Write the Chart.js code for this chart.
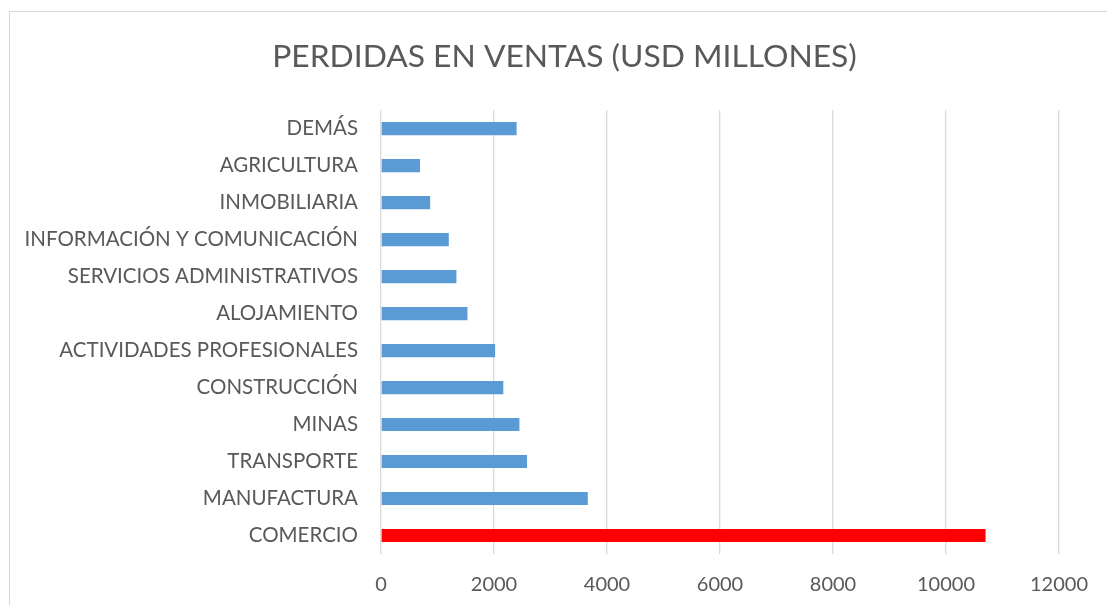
<!DOCTYPE html>
<html>
<head>
<meta charset="utf-8">
<script src="https://cdn.jsdelivr.net/npm/chart.js@4.4.0/dist/chart.umd.min.js"></script>
<style>
  html, body { margin: 0; padding: 0; background: #fff; overflow: hidden; }
  #frame {
    position: absolute; left: 9px; top: 11px;
    width: 1109px; height: 600px;
    border: 1px solid #d9d9d9;
  }
  #chart { display: block; }
</style>
</head>
<body>
<div id="frame"><canvas id="chart" width="1109" height="600"></canvas></div>
<script>
  const categories = [
    'DEMÁS', 'AGRICULTURA', 'INMOBILIARIA', 'INFORMACIÓN Y COMUNICACIÓN',
    'SERVICIOS ADMINISTRATIVOS', 'ALOJAMIENTO', 'ACTIVIDADES PROFESIONALES',
    'CONSTRUCCIÓN', 'MINAS', 'TRANSPORTE', 'MANUFACTURA', 'COMERCIO'
  ];
  const losses = [2400, 690, 870, 1200, 1335, 1530, 2020, 2165, 2450, 2585, 3660, 10700];
  const barColors = categories.map(c => c === 'COMERCIO' ? '#ff0000' : '#5b9bd5');
  const xTicks = [0, 2000, 4000, 6000, 8000, 10000, 12000];

  const textColor = '#595959';
  const fontFamily = 'Lato, "Open Sans", sans-serif';

  new Chart(document.getElementById('chart').getContext('2d'), {
    type: 'bar',
    data: {
      labels: categories,
      datasets: [{
        data: losses,
        backgroundColor: barColors,
        borderWidth: 0,
        categoryPercentage: 1,
        barPercentage: 0.355
      }]
    },
    options: {
      indexAxis: 'y',
      responsive: false,
      animation: false,
      layout: { padding: { left: 0, right: 0, top: 0, bottom: 8 } },
      plugins: {
        legend: { display: false },
        tooltip: { enabled: false },
        title: {
          display: true,
          text: 'PERDIDAS EN VENTAS (USD MILLONES)',
          color: textColor,
          font: { family: fontFamily, size: 31.8, weight: 'normal' },
          padding: { top: 26, bottom: 34 }
        }
      },
      scales: {
        x: {
          min: xTicks[0],
          max: xTicks[xTicks.length - 1],
          afterBuildTicks: s => { s.ticks = xTicks.map(v => ({ value: v })); },
          afterFit: s => { s.height = 50; },
          grid: { color: '#d9d9d9', lineWidth: 1.3, drawTicks: false },
          border: { display: false },
          ticks: {
            color: textColor,
            padding: 19,
            font: { family: fontFamily, size: 20 },
            callback: v => String(v)
          }
        },
        y: {
          afterFit: s => { s.width = 371; },
          grid: { display: false, drawTicks: false },
          border: { display: false },
          ticks: {
            color: textColor,
            padding: 23,
            font: { family: fontFamily, size: 20.5 }
          }
        },
        // empty right-hand axis keeps a margin right of the plot
        yRight: {
          position: 'right',
          afterFit: s => { s.width = 60; },
          grid: { display: false, drawTicks: false },
          border: { display: false },
          ticks: { display: false }
        }
      }
    }
  });
</script>
</body>
</html>
